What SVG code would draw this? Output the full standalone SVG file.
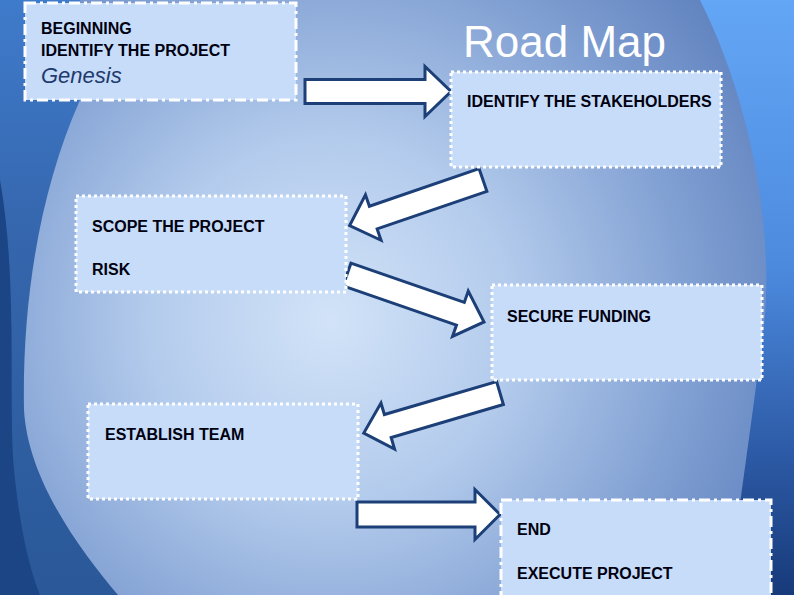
<svg xmlns="http://www.w3.org/2000/svg" width="794" height="595" viewBox="0 0 794 595">
<defs>
<radialGradient id="bg" cx="330" cy="320" r="520" gradientUnits="userSpaceOnUse">
<stop offset="0" stop-color="#d2e3f8"/>
<stop offset="0.35" stop-color="#b3cbec"/>
<stop offset="0.7" stop-color="#809fd2"/>
<stop offset="1" stop-color="#5a7dbb"/>
</radialGradient>
<linearGradient id="rightg" x1="0" y1="0" x2="0" y2="1">
<stop offset="0" stop-color="#64a6f6"/>
<stop offset="0.45" stop-color="#4c8ade"/>
<stop offset="0.75" stop-color="#2e5ca8"/>
<stop offset="1" stop-color="#173a7a"/>
</linearGradient>
<linearGradient id="leftg" x1="0" y1="0" x2="0" y2="1">
<stop offset="0" stop-color="#3f7bcb"/>
<stop offset="0.4" stop-color="#3566ad"/>
<stop offset="1" stop-color="#2a5898"/>
</linearGradient>
<style>
.box{fill:#c7dcf8;stroke:#ffffff;stroke-width:3}
.dot{stroke-dasharray:3 3}
.dashdot{stroke-dasharray:11 4 3 4}
.t{font-family:"Liberation Sans",Arial,sans-serif;font-weight:bold;font-size:16px;fill:#000010}
.arrow{fill:#ffffff;stroke:#1c3f78;stroke-width:3;stroke-linejoin:miter}
</style>
</defs>
<g id="background">
<rect x="0" y="0" width="794" height="595" fill="url(#bg)"/>
<path d="M700,0 C760,120 775,260 762,340 C752,420 740,500 728,595 L794,595 L794,0 Z" fill="url(#rightg)"/>
<path d="M0,0 L80,0 L80,100 C40,190 22,300 24,410 C28,480 80,550 118,595 L0,595 Z" fill="url(#leftg)"/>
<path d="M0,180 C18,280 8,400 14,470 C20,530 30,570 40,595 L0,595 Z" fill="#1c4586"/>
<text x="463" y="57" font-family="Liberation Sans,Arial,sans-serif" font-size="44" fill="#ffffff">Road Map</text>
</g>
<g id="connectors">
<path class="arrow" transform="translate(305,91.5)" d="M0,-12 L120,-12 L120,-25 L146,0 L120,25 L120,12 L0,12 Z"/>
<path class="arrow" transform="translate(483,180) rotate(161.1)" d="M0,-12 L116,-12 L116,-24 L141,0 L116,24 L116,12 L0,12 Z"/>
<path class="arrow" transform="translate(347,274.5) rotate(19.1)" d="M0,-12 L120,-12 L120,-24 L145,0 L120,24 L120,12 L0,12 Z"/>
<path class="arrow" transform="translate(500,393) rotate(163.6)" d="M0,-12 L117,-12 L117,-24 L142,0 L117,24 L117,12 L0,12 Z"/>
<path class="arrow" transform="translate(357,514.5)" d="M0,-12.5 L118,-12.5 L118,-25 L143,0 L118,25 L118,12.5 L0,12.5 Z"/>
</g>
<g id="node-beginning">
<rect class="box dashdot" x="25" y="3" width="271" height="97"/>
<text class="t" x="41" y="34">BEGINNING</text>
<text class="t" x="41" y="56">IDENTIFY THE PROJECT</text>
<text x="41" y="83" font-family="Liberation Sans,Arial,sans-serif" font-style="italic" font-size="22" fill="#1f3a6e">Genesis</text>
</g>
<g id="node-stakeholders">
<rect class="box dot" x="451" y="72" width="270" height="95"/>
<text class="t" x="467" y="107">IDENTIFY THE STAKEHOLDERS</text>
</g>
<g id="node-scope">
<rect class="box dot" x="76" y="196" width="270" height="96"/>
<text class="t" x="92" y="232">SCOPE THE PROJECT</text>
<text class="t" x="92" y="275">RISK</text>
</g>
<g id="node-funding">
<rect class="box dot" x="492" y="285" width="270" height="95"/>
<text class="t" x="507" y="322">SECURE FUNDING</text>
</g>
<g id="node-team">
<rect class="box dot" x="88" y="404" width="270" height="95"/>
<text class="t" x="105" y="440">ESTABLISH TEAM</text>
</g>
<g id="node-end">
<rect class="box dashdot" x="501" y="500" width="270" height="100"/>
<text class="t" x="517" y="535">END</text>
<text class="t" x="517" y="579">EXECUTE PROJECT</text>
</g>
</svg>
